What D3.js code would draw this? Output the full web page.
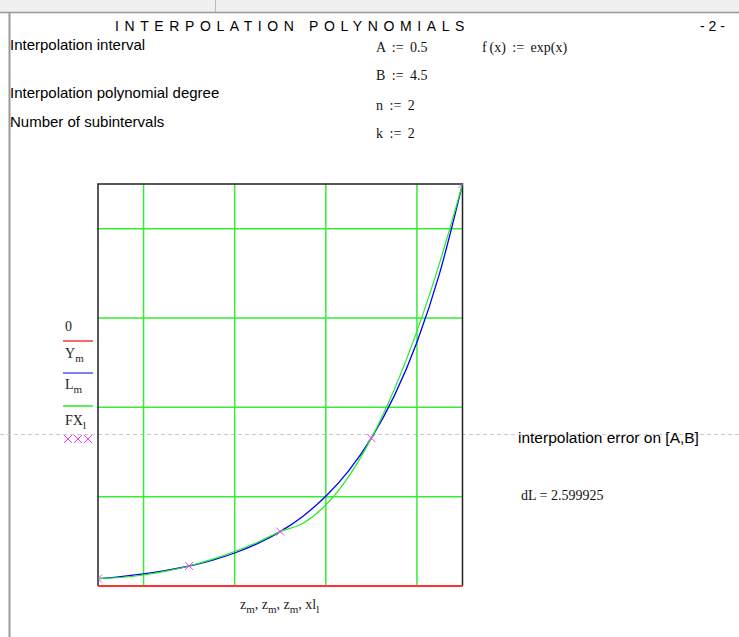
<!DOCTYPE html>
<html>
<head>
<meta charset="utf-8">
<script src="https://cdn.jsdelivr.net/npm/d3@7"></script>
<style>
  body { margin: 0; background: #fff; }
  .sans { font-family: Arial, "Liberation Sans", sans-serif; }
  .serif { font-family: "Times New Roman", "Liberation Serif", serif; white-space: pre; }
</style>
</head>
<body>
<script>
// values
var zValues = [0.5, 0.75, 1.0, 1.25, 1.5, 1.75, 2.0, 2.25, 2.5, 2.75, 3.0, 3.25, 3.5, 3.75, 4.0, 4.25, 4.5];
var yValues = [1.65, 2.12, 2.72, 3.49, 4.48, 5.75, 7.39, 9.49, 12.18, 15.64, 20.09, 25.79, 33.12, 42.52, 54.60, 70.11, 90.02];
var lValues = [1.65, 1.90, 2.46, 3.32, 4.48, 5.95, 7.72, 9.80, 12.18, 14.04, 18.15, 24.51, 33.12, 43.97, 57.07, 72.42, 90.02];
var nodeX = [0.5, 1.5, 2.5, 3.5, 4.5];
var nodeY = [1.65, 4.48, 12.18, 33.12, 90.02];
var xGrid = [1, 2, 3, 4];
var yGrid = [20, 40, 60, 80];

var width = 739, height = 637;

var svg = d3.select("body").append("svg")
  .attr("width", width)
  .attr("height", height);

// worksheet frame
svg.append("rect").attr("x", 0).attr("y", 0).attr("width", width).attr("height", 12).attr("fill", "#f0f0f0");
svg.append("line").attr("x1", 0).attr("x2", width).attr("y1", 12.5).attr("y2", 12.5).attr("stroke", "#999").attr("stroke-width", 1.5);
svg.append("line").attr("x1", 215.5).attr("x2", 215.5).attr("y1", 0).attr("y2", 12).attr("stroke", "#bbb");
svg.append("line").attr("x1", 9.5).attr("x2", 9.5).attr("y1", 13).attr("y2", height).attr("stroke", "#999").attr("stroke-width", 2);

// page break line
svg.append("line").attr("x1", 0).attr("x2", width).attr("y1", 434.5).attr("y2", 434.5)
  .attr("stroke", "#c8c8c8").attr("stroke-dasharray", "4,3");

// header texts
svg.append("text").attr("class", "sans").attr("x", 115).attr("y", 31)
  .attr("font-size", 14).attr("letter-spacing", 5.6).text("INTERPOLATION POLYNOMIALS");
svg.append("text").attr("class", "sans").attr("x", 700).attr("y", 31)
  .attr("font-size", 14).text("- 2 -");

var leftLabels = [["Interpolation interval", 50], ["Interpolation polynomial degree", 98], ["Number of subintervals", 127]];
leftLabels.forEach(function (d) {
  svg.append("text").attr("class", "sans").attr("x", 10).attr("y", d[1])
    .attr("font-size", 15).text(d[0]);
});

var defs = [["A := 0.5", 376, 52], ["B := 4.5", 376, 80], ["n := 2", 376, 110], ["k := 2", 376, 138], ["f\u2009(x) := exp(x)", 482, 52]];
defs.forEach(function (d) {
  svg.append("text").attr("class", "serif").attr("x", d[1]).attr("y", d[2])
    .attr("font-size", 14).attr("word-spacing", 3).attr("fill", "#111").text(d[0]);
});

// plot
var plotLeft = 98, plotRight = 462.5, plotTop = 184, plotBottom = 586;

var x = d3.scaleLinear().domain([0.5, 4.5]).range([plotLeft, plotRight]);
var y = d3.scaleLinear().domain([0, 90.02]).range([plotBottom, plotTop]);

svg.append("clipPath").attr("id", "clip")
  .append("rect").attr("x", plotLeft).attr("y", plotTop).attr("width", plotRight - plotLeft).attr("height", plotBottom - plotTop);

var g = svg.append("g");

g.selectAll(".vgrid").data(xGrid).enter().append("line")
  .attr("x1", function (d) { return x(d); }).attr("x2", function (d) { return x(d); })
  .attr("y1", plotTop).attr("y2", plotBottom)
  .attr("stroke", "#33ee33").attr("stroke-width", 1.5);
g.selectAll(".hgrid").data(yGrid).enter().append("line")
  .attr("x1", plotLeft).attr("x2", plotRight)
  .attr("y1", function (d) { return y(d); }).attr("y2", function (d) { return y(d); })
  .attr("stroke", "#33ee33").attr("stroke-width", 1.5);

// box
g.append("path")
  .attr("d", "M" + plotLeft + "," + plotBottom + "V" + plotTop + "H" + plotRight + "V" + plotBottom)
  .attr("fill", "none").attr("stroke", "#222").attr("stroke-width", 1.5);

var line = d3.line()
  .x(function (d) { return x(d[0]); })
  .y(function (d) { return y(d[1]); })
  .curve(d3.curveMonotoneX);

// zero trace sits on the bottom edge
g.append("path").datum([[0.5, 0], [4.5, 0]])
  .attr("d", line).attr("stroke", "#ff3333").attr("stroke-width", 2).attr("fill", "none");

var traces = g.append("g").attr("clip-path", "url(#clip)");

traces.append("path").datum(d3.zip(zValues, yValues))
  .attr("d", line).attr("stroke", "#0000ff").attr("stroke-width", 1.3).attr("fill", "none");
traces.append("path").datum(d3.zip(zValues, lValues))
  .attr("d", line).attr("stroke", "#22ee22").attr("stroke-width", 1.2).attr("fill", "none");

traces.selectAll(".mark").data(d3.zip(nodeX, nodeY)).enter().append("path")
  .attr("d", function (d) {
    var cx = x(d[0]), cy = y(d[1]), s = 4;
    return "M" + (cx - s) + "," + (cy - s) + "L" + (cx + s) + "," + (cy + s) +
      "M" + (cx - s) + "," + (cy + s) + "L" + (cx + s) + "," + (cy - s);
  })
  .attr("stroke", "#ff33ff").attr("stroke-width", 1).attr("fill", "none");

// legend on the left
var legend = [
  { label: "0", sub: "", color: "#ff3333", ty: 331, ly: 341 },
  { label: "Y", sub: "m", color: "#5555ff", ty: 358, ly: 373 },
  { label: "L", sub: "m", color: "#22ee22", ty: 389, ly: 406 }
];
legend.forEach(function (d) {
  var t = svg.append("text").attr("class", "serif").attr("x", 65).attr("y", d.ty).attr("font-size", 14).attr("fill", "#222");
  t.append("tspan").text(d.label);
  if (d.sub) t.append("tspan").attr("dy", 4).attr("font-size", 11).text(d.sub);
  svg.append("line").attr("x1", 63).attr("x2", 93).attr("y1", d.ly).attr("y2", d.ly)
    .attr("stroke", d.color).attr("stroke-width", 1.5);
});
var fx = svg.append("text").attr("class", "serif").attr("x", 65).attr("y", 425).attr("font-size", 14).attr("fill", "#222");
fx.append("tspan").text("FX");
fx.append("tspan").attr("dy", 4).attr("font-size", 11).text("l");
[68, 78, 88].forEach(function (cx) {
  var cy = 439, s = 4;
  svg.append("path")
    .attr("d", "M" + (cx - s) + "," + (cy - s) + "L" + (cx + s) + "," + (cy + s) + "M" + (cx - s) + "," + (cy + s) + "L" + (cx + s) + "," + (cy - s))
    .attr("stroke", "#ff33ff").attr("stroke-width", 1).attr("fill", "none");
});

// x axis label
var xl = svg.append("text").attr("class", "serif").attr("x", 240).attr("y", 609).attr("font-size", 14).attr("fill", "#222");
[["z", "m", ", "], ["z", "m", ", "], ["z", "m", ", "], ["xl", "l", ""]].forEach(function (p) {
  xl.append("tspan").text(p[0]);
  xl.append("tspan").attr("dy", 4).attr("font-size", 11).text(p[1]);
  if (p[2]) xl.append("tspan").attr("dy", -4).text(p[2]);
});

// error annotation
svg.append("text").attr("class", "sans").attr("x", 518).attr("y", 443)
  .attr("font-size", 15.5).text("interpolation error on [A,B]");
svg.append("text").attr("class", "serif").attr("x", 521).attr("y", 500)
  .attr("font-size", 14).attr("fill", "#111").text("dL = 2.599925");
</script>
</body>
</html>
